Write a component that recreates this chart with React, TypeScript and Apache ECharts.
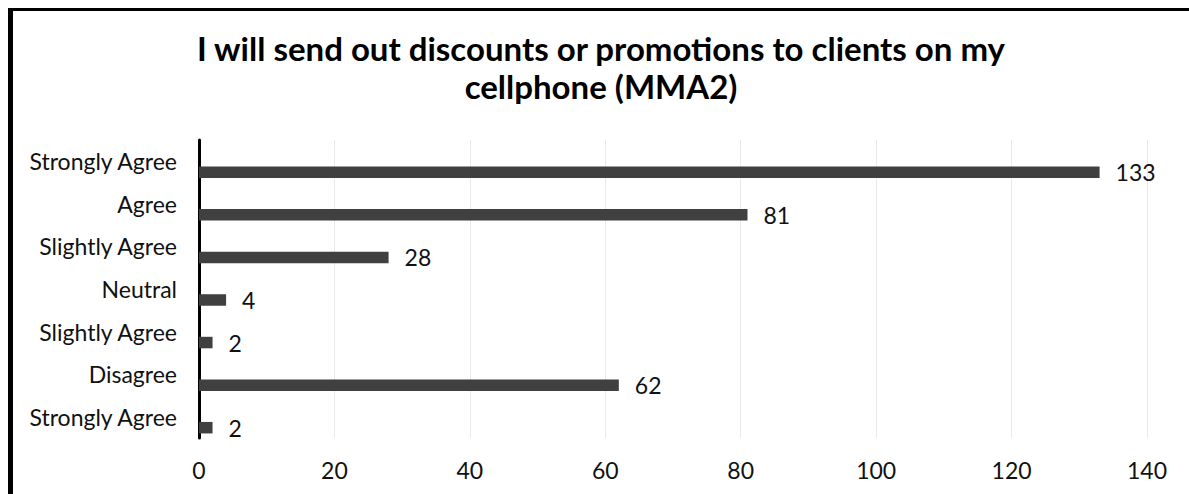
import React, { useEffect, useRef } from "react";
import * as echarts from "echarts";

const titleLines = [
  "I will send out discounts or promotions to clients on my",
  "cellphone (MMA2)",
];
const categories = [
  "Strongly Agree",
  "Agree",
  "Slightly Agree",
  "Neutral",
  "Slightly Agree",
  "Disagree",
  "Strongly Agree",
];
const counts = [133, 81, 28, 4, 2, 62, 2];
const spacer = categories.map(() => null);
const xMin = 0;
const xMax = 140;
const xStep = 20;

export default function App() {
  const ref = useRef<HTMLDivElement>(null);
  useEffect(() => {
    if (!ref.current) return;
    const chart = echarts.init(ref.current, null, { renderer: "svg" });
    const font = "Lato, 'Open Sans', sans-serif";
    chart.setOption({
      animation: false,
      backgroundColor: "#ffffff",
      title: {
        text: titleLines.join("\n"),
        left: "center",
        top: 18,
        padding: 0,
        textStyle: {
          fontFamily: font,
          fontSize: 33,
          fontWeight: "bold",
          color: "#000000",
          lineHeight: 38,
        },
      },
      grid: { left: 186, top: 129, width: 948, height: 298, containLabel: false },
      xAxis: {
        type: "value",
        min: xMin,
        max: xMax,
        interval: xStep,
        axisLine: { show: false },
        axisTick: { show: false },
        splitLine: { show: true, lineStyle: { color: "#e9e9e9", width: 1 } },
        axisLabel: {
          margin: 20,
          fontFamily: font,
          fontSize: 23,
          color: "#111111",
        },
      },
      yAxis: {
        type: "category",
        data: categories,
        inverse: true,
        axisLine: { show: true, lineStyle: { color: "#000000", width: 3 } },
        axisTick: { show: false },
        splitLine: { show: false },
        axisLabel: {
          margin: 22,
          fontFamily: font,
          fontSize: 23,
          color: "#111111",
        },
      },
      series: [
        {
          type: "bar",
          data: spacer,
          barWidth: 11.5,
          barGap: "91%",
          silent: true,
        },
        {
          type: "bar",
          data: counts,
          barWidth: 11.5,
          barGap: "91%",
          itemStyle: { color: "#404040" },
          label: {
            show: true,
            position: "right",
            distance: 16,
            fontFamily: font,
            fontSize: 23,
            color: "#111111",
          },
        },
      ],
    });
    return () => chart.dispose();
  }, []);
  return (
    <div
      style={{
        position: "fixed",
        left: 8,
        top: 8,
        borderLeft: "5px solid #000",
        borderTop: "3px solid #000",
        background: "#fff",
      }}
    >
      <div ref={ref} style={{ width: 1176, height: 483 }} />
    </div>
  );
}
